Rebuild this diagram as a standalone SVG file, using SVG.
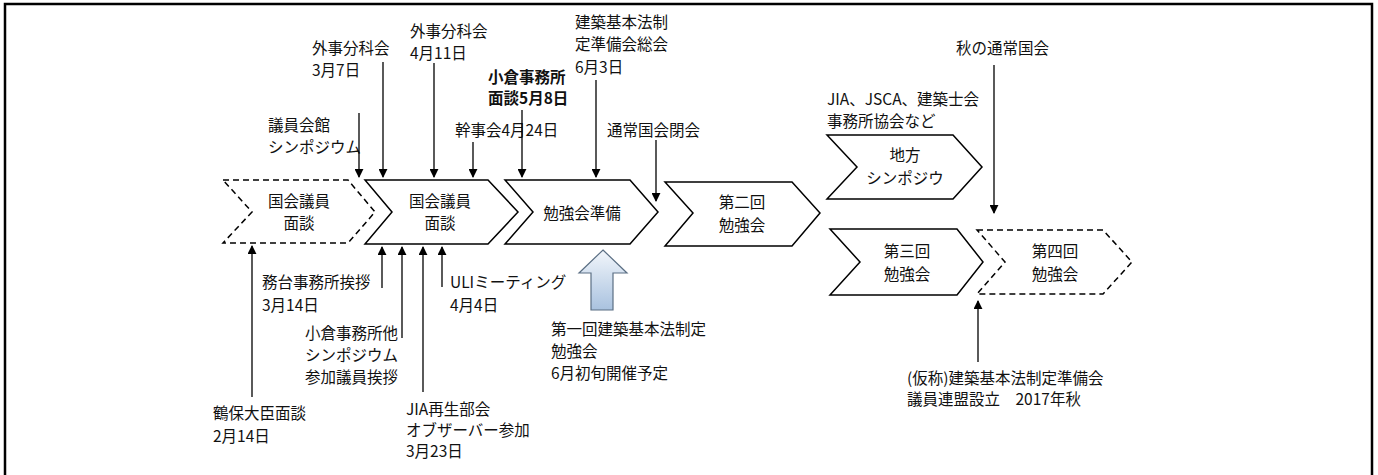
<svg xmlns="http://www.w3.org/2000/svg" width="1378" height="475" viewBox="0 0 1378 475">
<defs>
<marker id="ah" viewBox="0 0 10 10" refX="9" refY="5" markerWidth="9" markerHeight="9" markerUnits="userSpaceOnUse" orient="auto">
<path d="M0,0 L10,5 L0,10 Z" fill="#000"/>
</marker>
<linearGradient id="blue" x1="0" y1="0" x2="0" y2="1">
<stop offset="0" stop-color="#f2f6fb"/>
<stop offset="1" stop-color="#a9c2df"/>
</linearGradient>
<style>
text{font-family:"Noto Sans CJK JP","Noto Sans",sans-serif;font-size:15.5px;fill:#111;}
.c{text-anchor:middle;}
.b{font-weight:bold;}
.chev{fill:#fff;stroke:#000;stroke-width:1.5;stroke-linejoin:miter;}
.dash{stroke-dasharray:6,4;}
.arr{stroke:#000;stroke-width:1.3;fill:none;marker-end:url(#ah);}
</style>
</defs>
<rect x="5" y="4" width="1367" height="520" fill="#fff" stroke="#000" stroke-width="2.5"/>

<g id="node-c1">
<path class="chev dash" d="M223,180 L348,180 L375,212 L348,243 L223,243 L252,212 Z"/>
<text class="c" x="299" y="207">国会議員</text>
<text class="c" x="299" y="229">面談</text>
</g>
<g id="node-c2">
<path class="chev" d="M365,180 L488,180 L518,212 L488,244 L365,244 L392,212 Z"/>
<text class="c" x="440" y="207">国会議員</text>
<text class="c" x="440" y="229">面談</text>
</g>
<g id="node-c3">
<path class="chev" d="M505,180 L630,180 L658,212 L630,244 L505,244 L533,212 Z"/>
<text class="c" x="582" y="219">勉強会準備</text>
</g>
<g id="node-c4">
<path class="chev" d="M665,182 L792,182 L820,213 L792,246 L665,246 L693,213 Z"/>
<text class="c" x="742" y="208">第二回</text>
<text class="c" x="742" y="231">勉強会</text>
</g>
<g id="node-c5">
<path class="chev" d="M827,135 L953,135 L982,167 L953,199 L827,199 L857,167 Z"/>
<text class="c" x="905" y="161">地方</text>
<text class="c" x="905" y="184">シンポジウ</text>
</g>
<g id="node-c6">
<path class="chev" d="M830,229 L957,229 L983,262 L957,295 L830,295 L860,262 Z"/>
<text class="c" x="907" y="257">第三回</text>
<text class="c" x="907" y="280">勉強会</text>
</g>
<g id="node-c7">
<path class="chev dash" d="M977,230 L1103,230 L1132,262 L1103,294 L977,294 L1005,262 Z"/>
<text class="c" x="1055" y="257">第四回</text>
<text class="c" x="1055" y="280">勉強会</text>
</g>

<g id="node-blue">
<path d="M603,250 L627,273 L613,273 L613,310 L591,310 L591,273 L579,273 Z" fill="url(#blue)" stroke="#5b6f84" stroke-width="1.2"/>
<text x="551" y="335">第一回建築基本法制定</text>
<text x="551" y="357">勉強会</text>
<text x="551" y="379">6月初旬開催予定</text>
</g>

<g id="labels">
<text x="268" y="131">議員会館</text>
<text x="268" y="153">シンポジウム</text>
<text x="312" y="54">外事分科会</text>
<text x="312" y="76">3月7日</text>
<text x="410" y="37">外事分科会</text>
<text x="410" y="59">4月11日</text>
<text x="455" y="136">幹事会4月24日</text>
<text class="b" x="488" y="83">小倉事務所</text>
<text class="b" x="488" y="104">面談5月8日</text>
<text x="575" y="28">建築基本法制</text>
<text x="575" y="50">定準備会総会</text>
<text x="575" y="73">6月3日</text>
<text x="607" y="136">通常国会閉会</text>
<text x="827" y="105">JIA、JSCA、建築士会</text>
<text x="827" y="127">事務所協会など</text>
<text x="956" y="54">秋の通常国会</text>
<text x="213" y="419">鶴保大臣面談</text>
<text x="213" y="442">2月14日</text>
<text x="262" y="288">務台事務所挨拶</text>
<text x="262" y="311">3月14日</text>
<text x="305" y="339">小倉事務所他</text>
<text x="305" y="361">シンポジウム</text>
<text x="305" y="383">参加議員挨拶</text>
<text x="406" y="415">JIA再生部会</text>
<text x="406" y="436">オブザーバー参加</text>
<text x="406" y="457">3月23日</text>
<text x="450" y="288">ULIミーティング</text>
<text x="450" y="311">4月4日</text>
<text x="907" y="384">(仮称)建築基本法制定準備会</text>
<text x="907" y="405">議員連盟設立　2017年秋</text>
</g>

<g id="connectors">
<line class="arr" x1="359" y1="113" x2="359" y2="177"/>
<line class="arr" x1="383" y1="62" x2="383" y2="177"/>
<line class="arr" x1="434" y1="63" x2="434" y2="177"/>
<line class="arr" x1="473" y1="142" x2="473" y2="177"/>
<line class="arr" x1="522" y1="110" x2="522" y2="177"/>
<line class="arr" x1="596" y1="80" x2="596" y2="177"/>
<line class="arr" x1="656" y1="140" x2="656" y2="201"/>
<line class="arr" x1="994" y1="65" x2="994" y2="213"/>
<line class="arr" x1="252" y1="397" x2="252" y2="246"/>
<line class="arr" x1="382" y1="288" x2="382" y2="247"/>
<line class="arr" x1="402" y1="338" x2="402" y2="247"/>
<line class="arr" x1="423" y1="392" x2="423" y2="247"/>
<line class="arr" x1="442" y1="287" x2="442" y2="247"/>
<line class="arr" x1="978" y1="362" x2="978" y2="301"/>
</g>
</svg>
